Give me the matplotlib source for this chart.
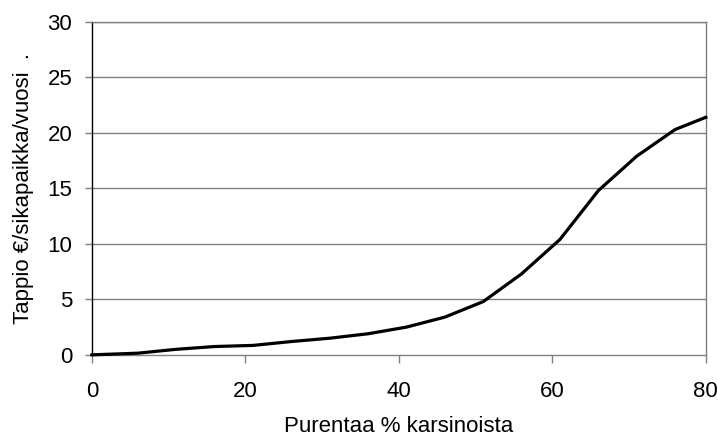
import matplotlib
matplotlib.use("Agg")
import matplotlib.pyplot as plt

plt.rcParams['font.family'] = ['Liberation Sans', 'DejaVu Sans']

# purenta-% ja tappio
purenta = [0, 6, 11, 16, 21, 26, 31, 36, 41, 46, 51, 56, 61, 66, 71, 76, 80]
tappio = [0, 0.15, 0.5, 0.75, 0.85, 1.2, 1.5, 1.9, 2.5, 3.4, 4.8, 7.3, 10.4, 14.8, 17.9, 20.3, 21.4]

x_ticks = [0, 20, 40, 60, 80]
y_ticks = [0, 5, 10, 15, 20, 25, 30]

fig = plt.figure(figsize=(7.18, 4.37), dpi=100)
ax = fig.add_axes([0.128, 0.188, 0.855, 0.762])

for y in y_ticks[1:]:
    ax.axhline(y, color='#808080', linewidth=1.0, zorder=1)

ax.plot(purenta, tappio, color='black', linewidth=2.3, zorder=3, clip_on=False)

ax.set_xlim(0, 80)
ax.set_ylim(0, 30)
ax.set_xticks(x_ticks)
ax.set_yticks(y_ticks)

ax.spines['left'].set_color('black')
ax.spines['bottom'].set_color('#808080')
ax.spines['top'].set_color('#808080')
ax.spines['right'].set_color('#808080')
for s in ax.spines.values():
    s.set_linewidth(1.0)

ax.tick_params(axis='both', direction='out', width=1.0,
               color='#808080', labelsize=16)
ax.tick_params(axis='x', length=5.8, pad=13)
ax.tick_params(axis='y', length=5.2, pad=9)

ax.set_xlabel("Purentaa % karsinoista", fontsize=16, labelpad=10)
ax.set_ylabel("Tappio €/sikapaikka/vuosi  .", fontsize=16, labelpad=9.5)

plt.savefig("out.png", dpi=100)
plt.close()
